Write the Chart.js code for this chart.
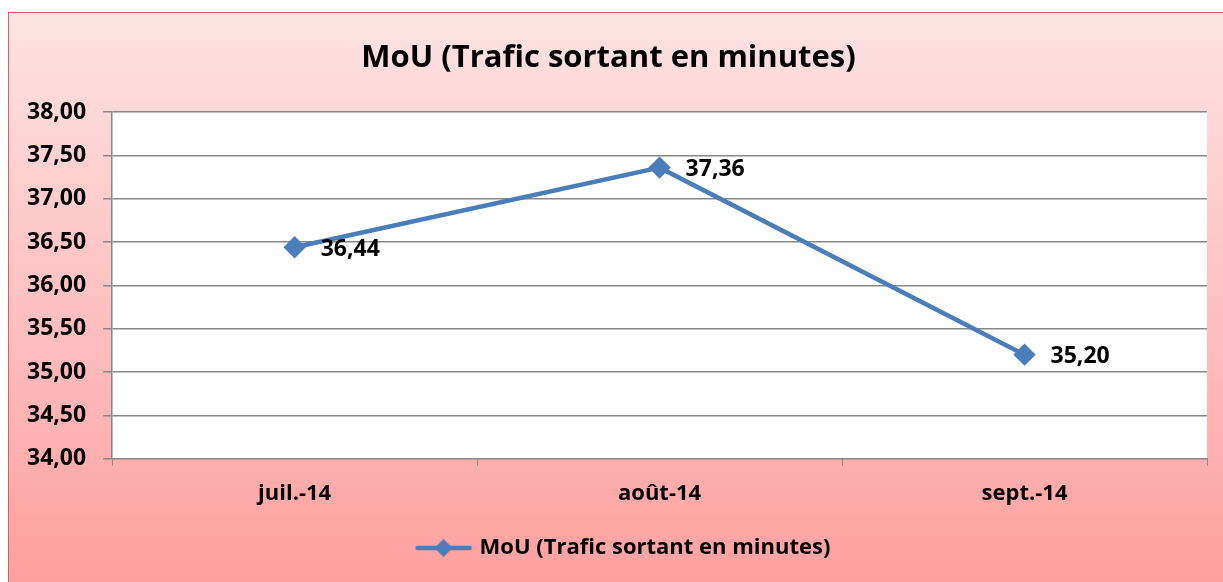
<!DOCTYPE html>
<html>
<head>
<meta charset="utf-8">
<script src="https://cdn.jsdelivr.net/npm/chart.js@4.4.0/dist/chart.umd.min.js"></script>
<style>
  html, body { margin: 0; padding: 0; background: #fff; overflow: hidden; }
  #wrap { position: relative; width: 1223px; height: 582px; }
</style>
</head>
<body>
<div id="wrap"><canvas id="mouChart" width="1223" height="582"></canvas></div>
<script>
// Chart data
const chartTitle = 'MoU (Trafic sortant en minutes)';
const months = ['juil.-14', 'août-14', 'sept.-14'];
const mouValues = [36.44, 37.36, 35.20];
const yTicks = [34, 34.5, 35, 35.5, 36, 36.5, 37, 37.5, 38];

const lineColor = '#4a7ebb';
const fontFamily = '"Open Sans", sans-serif';

const fmt = v => v.toFixed(2).replace('.', ',');

// frame background + white plot area
const framePlugin = {
    id: 'frame',
    afterLayout(chart) {
        // the legend sits a bit right of centre in the original
        if (chart.legend) {
            chart.legend.left += 16;
            chart.legend.right += 16;
        }
    },
    beforeDraw(chart) {
        const ctx = chart.ctx;
        const a = chart.chartArea;
        ctx.save();
        const g = ctx.createLinearGradient(0, 12, 0, 582);
        g.addColorStop(0, '#fde3e3');
        g.addColorStop(1, '#ffa0a0');
        ctx.fillStyle = g;
        ctx.fillRect(8, 12, 1230, 580);
        ctx.strokeStyle = '#d9605c';
        ctx.lineWidth = 1;
        ctx.strokeRect(8.5, 12.5, 1230, 580);
        ctx.fillStyle = '#ffffff';
        ctx.fillRect(a.left, a.top, a.right - a.left, a.bottom - a.top);
        ctx.restore();
    }
};

// value labels to the right of each point
const valueLabels = {
    id: 'valueLabels',
    afterDatasetsDraw(chart) {
        const ctx = chart.ctx;
        const meta = chart.getDatasetMeta(0);
        ctx.save();
        ctx.font = 'bold 23px ' + fontFamily;
        ctx.fillStyle = '#000';
        ctx.textAlign = 'left';
        ctx.textBaseline = 'middle';
        meta.data.forEach((pt, i) => {
            ctx.fillText(fmt(mouValues[i]), pt.x + 26, pt.y + 2);
        });
        ctx.restore();
    }
};

// legend symbol: line with a diamond
function legendSymbol() {
    const c = document.createElement('canvas');
    c.width = 58; c.height = 20;
    const x = c.getContext('2d');
    x.strokeStyle = lineColor;
    x.lineWidth = 4.5;
    x.lineCap = 'round';
    x.beginPath(); x.moveTo(3, 10); x.lineTo(55, 10); x.stroke();
    x.fillStyle = lineColor;
    x.beginPath(); x.moveTo(29, 1); x.lineTo(38, 10); x.lineTo(29, 19); x.lineTo(20, 10); x.closePath(); x.fill();
    return c;
}

const ctx = document.getElementById('mouChart').getContext('2d');
new Chart(ctx, {
    type: 'line',
    data: {
        labels: months,
        datasets: [{
            label: chartTitle,
            data: mouValues,
            borderColor: lineColor,
            backgroundColor: lineColor,
            borderWidth: 4.5,
            pointStyle: 'rectRot',
            pointRadius: 8,
            pointHoverRadius: 8,
            tension: 0
        }]
    },
    options: {
        responsive: false,
        animation: false,
        layout: { padding: { left: 10, right: 16, top: 40, bottom: 13 } },
        plugins: {
            title: {
                display: true,
                text: chartTitle,
                color: '#000',
                font: { family: fontFamily, size: 31, weight: 'bold' },
                padding: { top: 0, bottom: 35 }
            },
            legend: {
                position: 'bottom',
                labels: {
                    usePointStyle: true,
                    pointStyleWidth: 50,
                    generateLabels: () => [{
                        text: chartTitle,
                        pointStyle: legendSymbol(),
                        fillStyle: lineColor,
                        strokeStyle: lineColor,
                        datasetIndex: 0
                    }],
                    color: '#000',
                    font: { family: fontFamily, size: 22, weight: 'bold' },
                    padding: 15
                }
            },
            tooltip: { enabled: false }
        },
        scales: {
            x: {
                offset: true,
                grid: {
                    offset: true,
                    drawOnChartArea: false,
                    color: '#888',
                    tickLength: 7
                },
                border: { color: '#888' },
                ticks: {
                    color: '#000',
                    padding: 15,
                    font: { family: fontFamily, size: 22, weight: 'bold' }
                }
            },
            y: {
                min: 34,
                max: 38,
                afterBuildTicks: axis => { axis.ticks = yTicks.map(v => ({ value: v })); },
                grid: { color: '#888', lineWidth: 1.5, tickLength: 9 },
                border: { color: '#888', width: 1.5 },
                ticks: {
                    color: '#000',
                    padding: 17,
                    font: { family: fontFamily, size: 23, weight: 'bold' },
                    callback: v => fmt(v)
                }
            }
        }
    },
    plugins: [framePlugin, valueLabels]
});
</script>
</body>
</html>
